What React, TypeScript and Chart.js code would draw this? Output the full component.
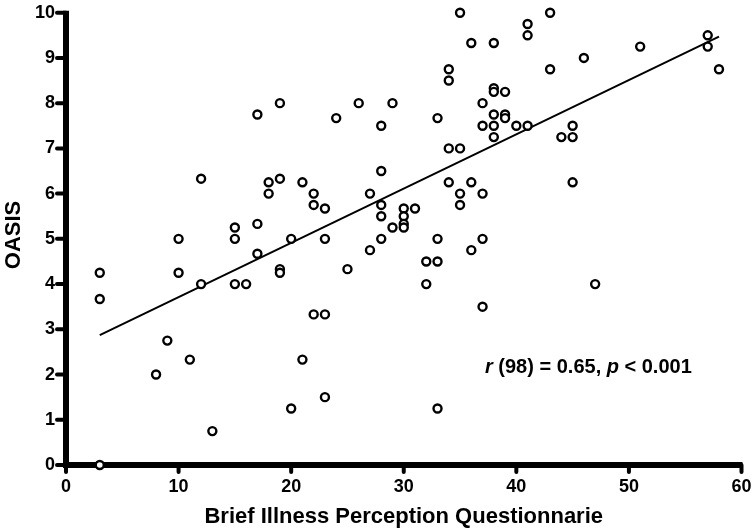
import React, { useEffect, useRef } from "react";
import { Chart, registerables } from "chart.js";

Chart.register(...registerables);

// Brief Illness Perception Questionnaire scores (x) and OASIS scores (y)
const bipqScores = [
  17, 19, 12, 18, 19, 18, 15, 17, 10, 15, 20,
  35, 36, 38, 34, 34, 38, 38, 39, 26, 29, 24, 28, 33, 37, 38, 39, 39, 37, 38, 38,
  40, 34, 35, 28, 21, 22, 22, 23, 27, 28, 28, 30, 30, 30, 30, 29, 31, 34, 36, 35,
  35, 37, 23, 28, 33, 37,
  43, 41, 41, 46, 51, 57, 57, 58, 43, 41, 45, 44, 45, 45,
  3, 3, 3, 10, 12, 15, 16, 17, 19, 19, 9, 11, 8, 13, 20,
  27, 25, 32, 33, 32, 36, 37, 22, 23, 21, 23, 33,
  47,
];
const oasisScores = [
  7.75, 8, 6.33, 6.25, 6.33, 6, 5.25, 5.33, 5, 5, 5,
  10, 9.33, 9.33, 8.75, 8.5, 8.33, 8.25, 8.25, 8, 8, 7.67, 7.5, 7.67, 8, 7.75, 7.75, 7.67, 7.5, 7.5, 7.25,
  7.5, 7, 7, 6.5, 6.25, 6, 5.75, 5.67, 6, 5.75, 5.5, 5.67, 5.5, 5.33, 5.25, 5.25, 5.67, 6.25, 6.25, 6,
  5.75, 6, 5, 5, 5, 5,
  10, 9.75, 9.5, 9, 9.25, 9.5, 9.25, 8.75, 8.75, 7.5, 7.5, 7.25, 7.25, 6.25,
  4.25, 3.67, 0, 4.25, 4, 4, 4, 4.67, 4.33, 4.25, 2.75, 2.33, 2, 0.75, 1.25,
  4.75, 4.33, 4.5, 4.5, 4, 4.75, 3.5, 3.33, 3.33, 2.33, 1.5, 1.25,
  4,
];

// Regression line end points
const fitX = [3, 58];
const fitY = [2.87, 9.47];

const xRange = [0, 60];
const yRange = [0, 10];
const xStep = 10;
const yStep = 1;

const xTitle = "Brief Illness Perception Questionnarie";
const yTitle = "OASIS";
const statParts: { text: string; italic: boolean }[] = [
  { text: "r", italic: true },
  { text: " (98) = 0.65, ", italic: false },
  { text: "p", italic: true },
  { text: " < 0.001", italic: false },
];

const FAMILY = "'Liberation Sans', Arial, Helvetica, sans-serif";

// Draws the heavy black axes and their tick marks from the chart's own scales
const axesPlugin = {
  id: "heavyAxes",
  beforeDatasetsDraw(chart: any) {
    const { ctx, chartArea, scales } = chart;
    const { left, right, top, bottom } = chartArea;
    ctx.save();
    ctx.strokeStyle = "#000";
    ctx.lineCap = "butt";
    ctx.lineWidth = 6;
    ctx.beginPath();
    ctx.moveTo(left - 3, bottom);
    ctx.lineTo(right + 1, bottom);
    ctx.moveTo(left, top - 2);
    ctx.lineTo(left, bottom + 3);
    ctx.stroke();
    ctx.lineCap = "round";
    ctx.lineWidth = 4;
    ctx.beginPath();
    for (const t of scales.x.ticks) {
      const px = scales.x.getPixelForValue(t.value);
      ctx.moveTo(px, bottom);
      ctx.lineTo(px, bottom + 7);
    }
    for (const t of scales.y.ticks) {
      const py = scales.y.getPixelForValue(t.value);
      ctx.moveTo(left, py);
      ctx.lineTo(left - 9, py);
    }
    ctx.stroke();
    ctx.restore();
  },
};

const textPlugin = {
  id: "customTexts",
  afterDraw(chart: any) {
    const { ctx, chartArea } = chart;
    ctx.save();
    ctx.fillStyle = "#000";
    ctx.font = `bold 22px ${FAMILY}`;
    ctx.textAlign = "center";
    ctx.textBaseline = "alphabetic";
    ctx.fillText(xTitle, (chartArea.left + chartArea.right) / 2, 523);
    ctx.save();
    ctx.translate(19.5, 235);
    ctx.rotate(-Math.PI / 2);
    ctx.fillText(yTitle, 0, 0);
    ctx.restore();
    ctx.textAlign = "left";
    let x = 485;
    for (const part of statParts) {
      ctx.font = `${part.italic ? "italic " : ""}bold 20px ${FAMILY}`;
      ctx.fillText(part.text, x, 373);
      x += ctx.measureText(part.text).width;
    }
    ctx.restore();
  },
};

export default function App() {
  const canvasRef = useRef<HTMLCanvasElement | null>(null);

  useEffect(() => {
    if (!canvasRef.current) return;
    const points = bipqScores.map((x, i) => ({ x, y: oasisScores[i] }));
    const fitLine = fitX.map((x, i) => ({ x, y: fitY[i] }));
    const chart = new Chart(canvasRef.current, {
      type: "scatter",
      data: {
        datasets: [
          {
            type: "line",
            data: fitLine,
            borderColor: "#000",
            borderWidth: 2,
            pointRadius: 0,
            fill: false,
            order: 2,
          } as any,
          {
            data: points,
            pointRadius: 4,
            pointHoverRadius: 4,
            borderWidth: 2.4,
            pointBorderWidth: 2.4,
            borderColor: "#000",
            backgroundColor: "#fff",
            pointBackgroundColor: "#fff",
            pointBorderColor: "#000",
            clip: false,
            order: 1,
          } as any,
        ],
      },
      options: {
        responsive: false,
        animation: false,
        devicePixelRatio: 1,
        layout: { padding: { left: 0, top: 12.7, right: 14.5, bottom: 0 } },
        plugins: {
          legend: { display: false },
          tooltip: { enabled: false },
        },
        scales: {
          x: {
            type: "linear",
            min: xRange[0],
            max: xRange[1],
            border: { display: false },
            grid: { display: false, drawTicks: true, tickLength: 9 },
            ticks: {
              stepSize: xStep,
              color: "#000",
              padding: 2,
              font: { family: FAMILY, size: 18, weight: "bold" },
              maxRotation: 0,
            },
            afterFit(scale: any) {
              scale.height = 66;
              scale.paddingLeft = 0;
              scale.paddingRight = 0;
            },
          },
          y: {
            type: "linear",
            min: yRange[0],
            max: yRange[1],
            border: { display: false },
            grid: { display: false, drawTicks: true, tickLength: 10 },
            ticks: {
              stepSize: yStep,
              color: "#000",
              padding: 1,
              font: { family: FAMILY, size: 18, weight: "bold" },
            },
            afterFit(scale: any) {
              scale.width = 66;
              scale.paddingTop = 0;
              scale.paddingBottom = 0;
            },
          },
        },
      } as any,
      plugins: [axesPlugin, textPlugin],
    });
    return () => chart.destroy();
  }, []);

  return (
    <div
      style={{
        position: "fixed",
        left: 0,
        top: 0,
        width: 756,
        height: 531,
        background: "#fff",
      }}
    >
      <canvas
        ref={canvasRef}
        width={756}
        height={531}
        style={{ display: "block", width: 756, height: 531 }}
      />
    </div>
  );
}
